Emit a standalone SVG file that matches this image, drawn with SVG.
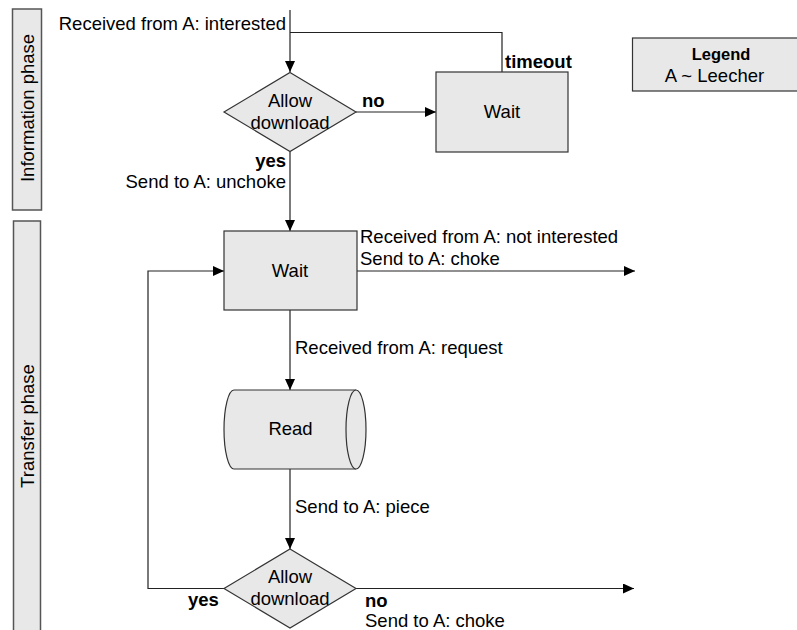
<svg xmlns="http://www.w3.org/2000/svg" width="797" height="630" viewBox="0 0 797 630">
<style>
text { font-family: "Liberation Sans", Arial, sans-serif; font-size: 18.5px; fill: #000; }
.b { font-weight: bold; }
.m { text-anchor: middle; }
.e { text-anchor: end; }
.shape { fill: #e8e8e8; stroke: #333; stroke-width: 1.2; }
.phase { fill: #e8e8e8; stroke: #555; stroke-width: 1.5; }
.conn { fill: none; stroke: #222; stroke-width: 1.2; }
</style>
<defs>
<marker id="arr" markerUnits="userSpaceOnUse" markerWidth="11" markerHeight="10" refX="11" refY="5" orient="auto">
<path d="M0,0 L11,5 L0,10 z" fill="#000"/>
</marker>
</defs>
<rect width="797" height="630" fill="#fff"/>

<g id="phase-information">
<rect class="phase" x="12.5" y="9" width="29" height="201"/>
<text class="m" transform="translate(33.5,108) rotate(-90)">Information phase</text>
</g>
<g id="phase-transfer">
<rect class="phase" x="13.5" y="221" width="27" height="420"/>
<text class="m" transform="translate(33.5,426) rotate(-90)">Transfer phase</text>
</g>

<g id="connectors">
<path class="conn" d="M290,10 V72" marker-end="url(#arr)"/>
<path class="conn" d="M502,72 V32.5 H290"/>
<path class="conn" d="M356,112 H436" marker-end="url(#arr)"/>
<path class="conn" d="M290,151.5 V231" marker-end="url(#arr)"/>
<path class="conn" d="M357,271 H635" marker-end="url(#arr)"/>
<path class="conn" d="M290,310 V390" marker-end="url(#arr)"/>
<path class="conn" d="M290,469 V549" marker-end="url(#arr)"/>
<path class="conn" d="M224,588.5 H148 V271 H224" marker-end="url(#arr)"/>
<path class="conn" d="M356,588.5 H634" marker-end="url(#arr)"/>
</g>

<g id="labels">
<text class="e" x="286" y="30">Received from A: interested</text>
<text class="b" x="362" y="107">no</text>
<text class="b" x="505" y="68">timeout</text>
<text class="b e" x="286" y="166.5">yes</text>
<text class="e" x="286" y="188">Send to A: unchoke</text>
<text x="360" y="243">Received from A: not interested</text>
<text x="360" y="265">Send to A: choke</text>
<text x="295" y="354">Received from A: request</text>
<text x="295" y="513">Send to A: piece</text>
<text class="b" x="188" y="606">yes</text>
<text class="b" x="365" y="606.5">no</text>
<text x="365" y="627">Send to A: choke</text>
</g>

<g id="decision-1">
<polygon class="shape" points="290,72.5 356,112 290,151.5 224,112"/>
<text class="m" x="290" y="107">Allow</text>
<text class="m" x="290" y="129">download</text>
</g>

<g id="wait-1">
<rect class="shape" x="436" y="72" width="132" height="80"/>
<text class="m" x="502" y="118">Wait</text>
</g>

<g id="legend">
<rect class="shape" x="632.5" y="38" width="180" height="53"/>
<text class="b m" x="721" y="59.5" style="font-size:16.5px">Legend</text>
<text class="m" x="714.5" y="82">A ~ Leecher</text>
</g>

<g id="wait-2">
<rect class="shape" x="224" y="231" width="133" height="79"/>
<text class="m" x="290" y="277">Wait</text>
</g>

<g id="read">
<path class="shape" d="M234,390 H356 A10,39.5 0 0 1 356,469 H234 A10,39.5 0 0 1 234,390 Z"/>
<path class="shape" d="M356,390 A10,39.5 0 0 0 356,469" fill="none"/>
<text class="m" x="290.5" y="435">Read</text>
</g>

<g id="decision-2">
<polygon class="shape" points="290,549 356,588.5 290,628 224,588.5"/>
<text class="m" x="290" y="583">Allow</text>
<text class="m" x="290" y="605">download</text>
</g>
</svg>
